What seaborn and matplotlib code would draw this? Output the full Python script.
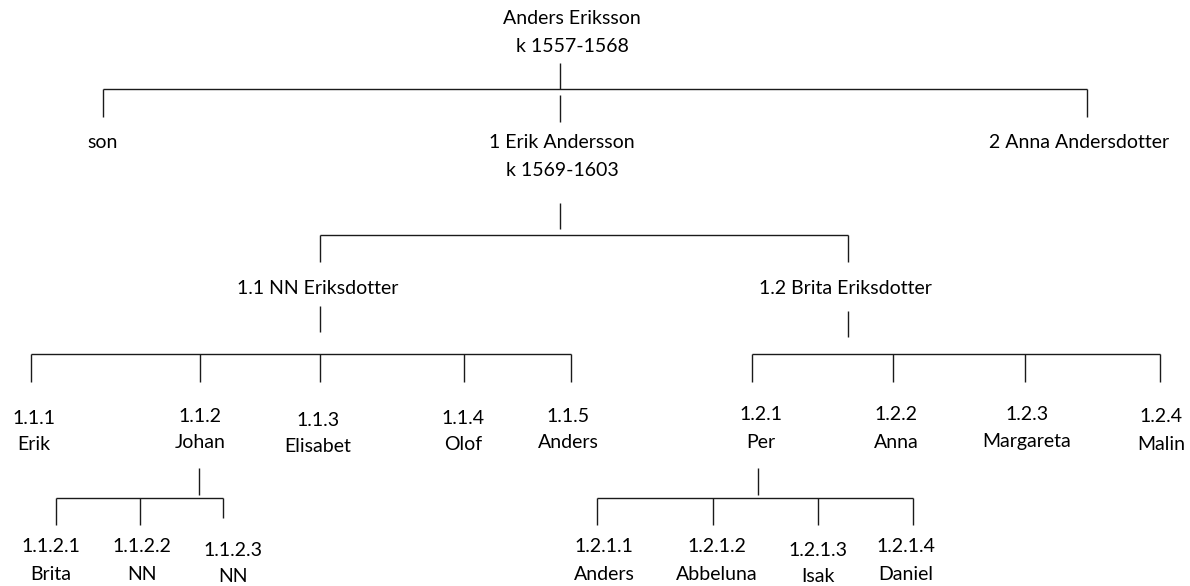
"""Family tree of Anders Eriksson drawn as a plain connector diagram."""

import matplotlib
matplotlib.use("Agg")  # Non-interactive backend
import matplotlib.pyplot as plt
import seaborn as sns

# --- data: who is who, and who belongs to whom ---
node_ids = ["0", "son", "1", "2",
            "1.1", "1.2",
            "1.1.1", "1.1.2", "1.1.3", "1.1.4", "1.1.5",
            "1.2.1", "1.2.2", "1.2.3", "1.2.4",
            "1.1.2.1", "1.1.2.2", "1.1.2.3",
            "1.2.1.1", "1.2.1.2", "1.2.1.3", "1.2.1.4"]
parents = [None, "0", "0", "0",
           "1", "1",
           "1.1", "1.1", "1.1", "1.1", "1.1",
           "1.2", "1.2", "1.2", "1.2",
           "1.1.2", "1.1.2", "1.1.2",
           "1.2.1", "1.2.1", "1.2.1", "1.2.1"]
first_lines = ["Anders Eriksson", "son", "1 Erik Andersson", "2 Anna Andersdotter",
               "1.1 NN Eriksdotter", "1.2 Brita Eriksdotter",
               "1.1.1", "1.1.2", "1.1.3", "1.1.4", "1.1.5",
               "1.2.1", "1.2.2", "1.2.3", "1.2.4",
               "1.1.2.1", "1.1.2.2", "1.1.2.3",
               "1.2.1.1", "1.2.1.2", "1.2.1.3", "1.2.1.4"]
second_lines = ["k 1557-1568", "", "k 1569-1603", "",
                "", "",
                "Erik", "Johan", "Elisabet", "Olof", "Anders",
                "Per", "Anna", "Margareta", "Malin",
                "Brita", "NN", "NN",
                "Anders", "Abbeluna", "Isak", "Daniel"]

# --- layout (pixels, y downwards) ---
W, H = 1190, 586
line_x = {"son": 103, "1": 560, "2": 1087,
          "1.1": 320, "1.2": 848,
          "1.1.1": 31, "1.1.2": 200, "1.1.3": 320, "1.1.4": 464, "1.1.5": 571,
          "1.2.1": 752, "1.2.2": 893, "1.2.3": 1025, "1.2.4": 1160,
          "1.1.2.1": 56, "1.1.2.2": 140, "1.1.2.3": 223,
          "1.2.1.1": 597, "1.2.1.2": 713, "1.2.1.3": 818, "1.2.1.4": 913}
label_x = {"0": 572, "son": 103, "1": 562, "2": 1079,
           "1.1": 318, "1.2": 845,
           "1.1.1": 34, "1.1.2": 200, "1.1.3": 318, "1.1.4": 463, "1.1.5": 568,
           "1.2.1": 761, "1.2.2": 896, "1.2.3": 1027, "1.2.4": 1161,
           "1.1.2.1": 51, "1.1.2.2": 142, "1.1.2.3": 233,
           "1.2.1.1": 604, "1.2.1.2": 717, "1.2.1.3": 818, "1.2.1.4": 906}
label_y = {"0": 19, "son": 143, "1": 143, "2": 143,
           "1.1": 289, "1.2": 289,
           "1.1.1": 418, "1.1.2": 416, "1.1.3": 420, "1.1.4": 418, "1.1.5": 416,
           "1.2.1": 415, "1.2.2": 415, "1.2.3": 415, "1.2.4": 417,
           "1.1.2.1": 547, "1.1.2.2": 547, "1.1.2.3": 550,
           "1.2.1.1": 547, "1.2.1.2": 547, "1.2.1.3": 550, "1.2.1.4": 547}
line_gap = {"0": 27, "1": 27, "1.1.2.1": 28, "1.1.2.2": 28, "1.1.2.3": 27,
            "1.2.1.1": 28, "1.2.1.2": 28, "1.2.1.3": 27, "1.2.1.4": 28}
# per parent: stem x, stem top/bottom, bar y, bottom of the drops
groups = {"0": dict(x=560, stem=(63, 89), bar=89, drop=117),
          "1": dict(x=560, stem=(203, 229), bar=235, drop=262),
          "1.1": dict(x=320, stem=(306, 332), bar=354, drop=382),
          "1.2": dict(x=848, stem=(311, 337), bar=354, drop=382),
          "1.1.2": dict(x=199, stem=(468, 495), bar=498, drop=525),
          "1.2.1": dict(x=758, stem=(468, 495), bar=498, drop=525)}
drop_override = {"1": (95, 122), "1.1.2.3": (498, 518)}

sns.set_theme(style="white")
plt.rcParams["font.family"] = ["Lato", "DejaVu Sans"]

fig = plt.figure(figsize=(W / 100, H / 100), dpi=100)
ax = fig.add_axes([0, 0, 1, 1])
ax.set_xlim(0, W)
ax.set_ylim(H, 0)
ax.axis("off")

lc = "#1a1a1a"
lw = 1.0

# connectors
for pid, g in groups.items():
    kids = [n for n, p in zip(node_ids, parents) if p == pid]
    xs = [line_x[k] for k in kids]
    ax.vlines(g["x"], *g["stem"], color=lc, lw=lw)
    ax.hlines(g["bar"], min(xs), max(xs), color=lc, lw=lw)
    for k in kids:
        top, bottom = drop_override.get(k, (g["bar"], g["drop"]))
        ax.vlines(line_x[k], top, bottom, color=lc, lw=lw)

# labels
for n, t1, t2 in zip(node_ids, first_lines, second_lines):
    x, y = label_x[n], label_y[n]
    ax.text(x, y, t1, ha="center", va="center", fontsize=14, color="black")
    if t2:
        ax.text(x, y + line_gap.get(n, 27), t2, ha="center", va="center",
                fontsize=14, color="black")

fig.savefig("out.png", dpi=100, facecolor="white")
plt.close(fig)
